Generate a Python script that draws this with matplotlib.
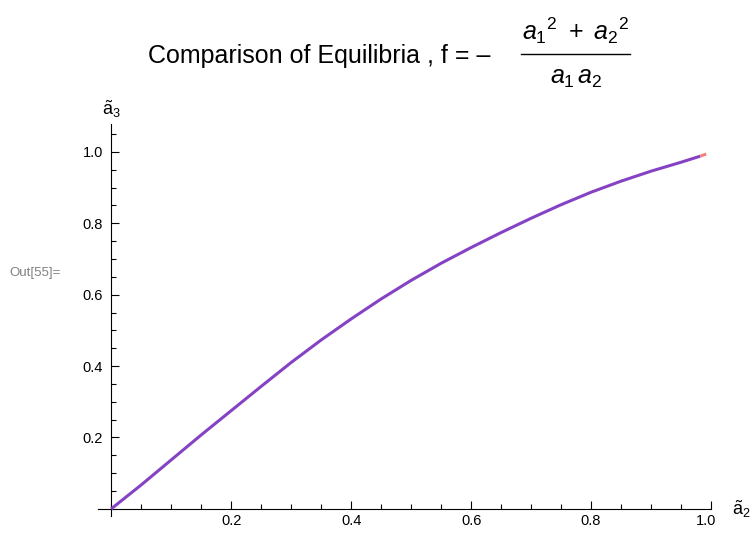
import numpy as np
import matplotlib
matplotlib.use('Agg')
import matplotlib.pyplot as plt
import matplotlib.transforms as mtransforms
from matplotlib.ticker import MultipleLocator
from matplotlib.lines import Line2D

plt.rcParams['font.family'] = ['Liberation Sans', 'DejaVu Sans']
plt.rcParams['mathtext.fontset'] = 'custom'
plt.rcParams['mathtext.rm'] = 'Liberation Sans'
plt.rcParams['mathtext.it'] = 'Liberation Sans:italic'

# curve
a2 = [0, 0.05, 0.1, 0.15, 0.2, 0.25, 0.3, 0.35, 0.4, 0.45, 0.5, 0.55,
      0.6, 0.65, 0.7, 0.75, 0.8, 0.85, 0.9, 0.95, 0.982]
a3 = [0, 0.067, 0.137, 0.207, 0.275, 0.343, 0.41, 0.473, 0.532, 0.588, 0.64,
      0.688, 0.732, 0.774, 0.814, 0.852, 0.887, 0.918, 0.946, 0.971, 0.988]
# short second branch at the end
a2_end = [0.982, 0.992]
a3_end = [0.988, 0.994]

xticks = [0.2, 0.4, 0.6, 0.8, 1.0]
yticks = [0.2, 0.4, 0.6, 0.8, 1.0]

#======================================
fig = plt.figure(figsize=(7.56, 5.34), dpi=100)
ax = fig.add_axes([0.1296, 0.0337, 0.8109, 0.734])
ax.set_xlim(-0.022, 1.0)
ax.set_ylim(-0.02, 1.078)
#======================================

ax.plot(a2, a3, color='#8543c4', lw=2.2, solid_capstyle='butt', zorder=3)
ax.plot(a2_end, a3_end, color='#f58080', lw=2.2, solid_capstyle='butt', zorder=3)

for s in ['top', 'right']:
    ax.spines[s].set_visible(False)
ax.spines['left'].set_position(('data', 0))
ax.spines['bottom'].set_position(('data', 0))
ax.spines['left'].set_bounds(-0.02, 1.078)

ax.set_xticks(xticks)
ax.set_yticks(yticks)
ax.set_xticklabels(['%.1f' % v for v in xticks])
ax.set_yticklabels(['%.1f' % v for v in yticks])
ax.xaxis.set_minor_locator(MultipleLocator(0.05))
ax.yaxis.set_minor_locator(MultipleLocator(0.05))
ax.tick_params(which='major', direction='in', length=6, width=0.8,
               labelsize=10.5, pad=6)
ax.tick_params(which='minor', direction='in', length=3.5, width=0.8)
ax.tick_params(axis='x', which='major', pad=4)

# last x label sits a little to the left, as in the original
shift = mtransforms.ScaledTranslation(-5/100, 0, fig.dpi_scale_trans)
lab = ax.get_xticklabels()[-1]
lab.set_transform(lab.get_transform() + shift)

ax.text(0.0, 1.09, r'$\mathregular{\tilde{a}_3}$', fontsize=13,
        ha='center', va='bottom', clip_on=False)
ax.text(1.05, 0.0, r'$\mathregular{\tilde{a}_2}$', fontsize=13,
        ha='center', va='center', clip_on=False)

# title with a built-up fraction
fig.text(148/756, 1-63/534, u'Comparison of Equilibria , f = \u2013',
         fontsize=18, ha='left', va='baseline')
fig.text(576/756, 1-40/534, r'${a_1}^{2}\ +\ {a_2}^{2}$',
         fontsize=18, ha='center', va='baseline')
fig.text(576/756, 1-84/534, r'$a_1\,a_2$',
         fontsize=18, ha='center', va='baseline')
fig.add_artist(Line2D([521/756, 630/756], [1-54/534, 1-54/534],
                      color='black', lw=1.0, transform=fig.transFigure))

fig.text(9/756, 1-273/534, 'Out[55]=', fontsize=9.5, color='#808080',
         ha='left', va='center')

plt.savefig('out.png', dpi=100)
